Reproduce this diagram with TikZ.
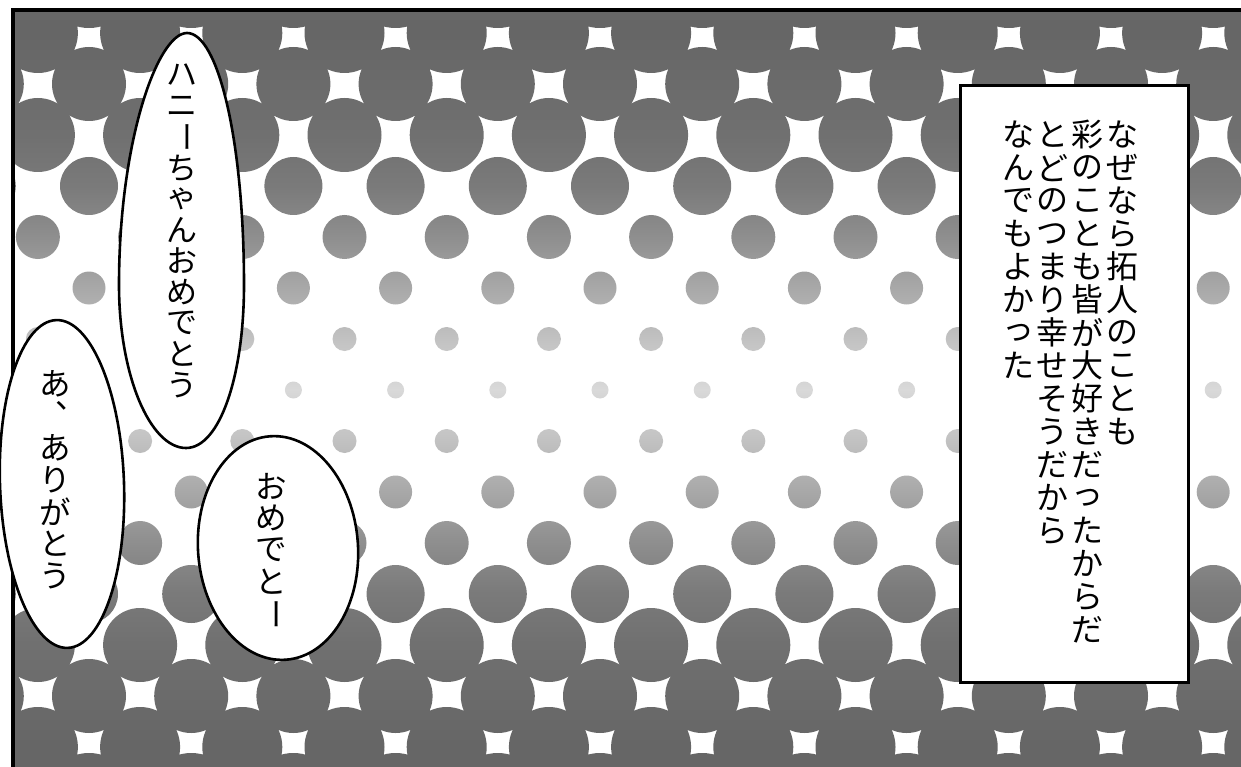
\documentclass[tikz,border=0pt]{standalone}
\usepackage{fontspec}
\usepackage{graphicx}
\newfontfamily\jp{Noto Sans CJK JP}
\pgfdeclareverticalshading{halftone}{100bp}{color(0bp)=(black!60); color(26.5bp)=(black!60); color(29.9bp)=(black!58); color(33.25bp)=(black!56); color(36.6bp)=(black!52); color(39.95bp)=(black!44); color(43.3bp)=(black!34); color(46.65bp)=(black!24); color(50bp)=(black!15); color(53.35bp)=(black!24); color(56.7bp)=(black!34); color(60.05bp)=(black!44); color(63.4bp)=(black!52); color(66.75bp)=(black!56); color(70.1bp)=(black!58); color(73.5bp)=(black!60); color(100bp)=(black!60)}
\ExplSyntaxOn
\dim_new:N \l_tate_pitch_dim
\NewDocumentCommand\Tate{mm}{
  \dim_set:Nn \l_tate_pitch_dim {#1}
  \vbox{
    \offinterlineskip
    \tl_map_inline:nn {#2}{
      \hbox_to_wd:nn {1em}{\hss \vbox_to_ht:nn {\l_tate_pitch_dim}{\vss \hbox{##1} \vss} \hss}
    }
  }
}
\NewDocumentCommand\VC{}{
  \vbox_to_ht:nn {\l_tate_pitch_dim}{\kern0.06em \hbox_to_wd:nn {1em}{\kern0.52em \rlap{、}\hss}\vss}
}
\ExplSyntaxOff
\newcommand\VB{\rotatebox[origin=c]{-90}{ー}}
\tikzset{
  balloon/.style={draw=black, line width=2.6pt, fill=white},
  vt/.style={inner sep=0pt, font=\jp\fontsize{31}{31}\selectfont},
  captxt/.style={inner sep=0pt, anchor=north, font=\jp\fontsize{32}{33}\selectfont},
  framebox/.style={draw=black, line width=3pt, fill=white, inner sep=0pt, anchor=north west},
  frameline/.style={draw=black, line width=3.2pt}
}
\begin{document}
\begin{tikzpicture}[x=1pt,y=-1pt]
\useasboundingbox (0,0) rectangle (1241,767);
\fill[white] (0,0) rectangle (1241,767);
% halftone background
\begin{scope}
\clip (13,10) rectangle (1241,767);
\clip \foreach \k/\r in {-8/46,-7/40,-6/37,-5/37,-4/29,-3/22,-2/16.5,-1/12,0/8.5,1/12,2/16.5,3/22,4/29,5/37,6/37,7/40,8/45}{ \foreach \j in {-7,...,7}{ ({600+51.1*abs(mod(\k,2))+102.2*\j},{390+51*\k}) circle[radius=\r] } };
\shade[shading=halftone] (13,12) rectangle (1241,767);
\end{scope}
% panel frame
\coordinate (ftl) at (13,10);
\coordinate (ftr) at (1241,10);
\coordinate (fbl) at (13,767);
\draw[frameline] (ftr) -- (ftl) -- (fbl);
% caption box
\node[framebox, minimum width=228.5, minimum height=596.5] (capbox) at (958.5,84.5) {};
\node[captxt] (cap1) at (1122,118) {\Tate{33pt}{なぜなら拓人のことも}};
\node[captxt] (cap2) at (1087,118) {\Tate{33pt}{彩のことも皆が大好きだったからだ}};
\node[captxt] (cap3) at (1052,118) {\Tate{33pt}{とどのつまり幸せそうだから}};
\node[captxt] (cap4) at (1018,118) {\Tate{33pt}{なんでもよかった}};
% balloon 1
\path[balloon] (187,33) .. controls (218,33) and (244,140) .. (244,285)
  .. controls (244,375) and (220,448) .. (186,448)
  .. controls (150,448) and (119,375) .. (119,285)
  .. controls (119,140) and (158,33) .. (187,33) -- cycle;
\node[vt] (t1) at (182,230) {\Tate{31pt}{ハニ\VB ちゃんおめでとう}};
% balloon 2
\path[balloon, rotate around={2:(62,484)}] (62,484) ellipse [x radius=62, y radius=164];
\node[vt, font=\jp\fontsize{31.5}{32}\selectfont] (t2) at (55,480) {\Tate{32pt}{あ\VC ありがとう}};
% balloon 3
\path[balloon, rotate around={4:(278,548)}] (278,548) ellipse [x radius=80, y radius=112];
\node[vt, font=\jp\fontsize{31.5}{32}\selectfont] (t3) at (271,550) {\Tate{32pt}{おめでと\VB}};
\end{tikzpicture}
\end{document}
